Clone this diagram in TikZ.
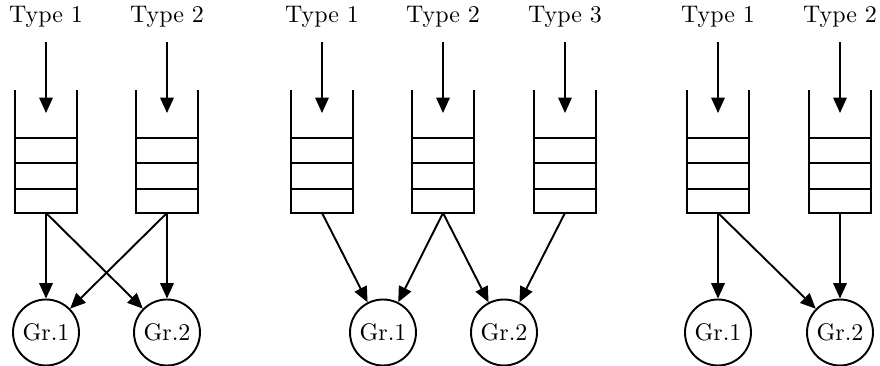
\documentclass[tikz,border=0pt]{standalone}
\usetikzlibrary{arrows.meta,calc}
\begin{document}
\begin{tikzpicture}[x=0.4167pt,y=-0.4167pt,
  every path/.style={line width=0.8pt},
  lbl/.style={inner sep=0pt,font=\normalsize},
  qbox/.style={inner sep=0pt,minimum width=25pt,minimum height=50.4pt},
  grp/.style={circle,draw,line width=0.8pt,inner sep=0pt,minimum size=27.5pt},
  arr/.style={-{Triangle[length=6.4pt,width=5.6pt]},line width=0.8pt},
  inarr/.style={arr,shorten <=5.8pt}]
\useasboundingbox (0,0) rectangle (880,366);
% queue helper drawing
\newcommand{\qdraw}[1]{%
  \draw (#1.north west) -- (#1.south west) -- (#1.south east) -- (#1.north east);
  \draw ($(#1.north west)!0.3884!(#1.south west)$) -- ($(#1.north east)!0.3884!(#1.south east)$);
  \draw ($(#1.north west)!0.5950!(#1.south west)$) -- ($(#1.north east)!0.5950!(#1.south east)$);
  \draw ($(#1.north west)!0.8017!(#1.south west)$) -- ($(#1.north east)!0.8017!(#1.south east)$);
}
\foreach \n/\x/\t in {a1/46/Type 1,a2/167/Type 2,b1/322/Type 1,b2/443/Type 2,b3/565/Type 3,c1/718/Type 1,c2/840/Type 2}{
  \node[lbl] (t\n) at (\x,17) {\t};
  \node[qbox] (q\n) at (\x,151.5) {};
  \coordinate (e\n) at (\x,113);
  \qdraw{q\n}
  \draw[inarr] (t\n) -- (e\n);
}
\node[grp] (ga1) at (46,332.5) {Gr.1};
\node[grp] (ga2) at (167,332.5) {Gr.2};
\node[grp] (gb1) at (383,332.5) {Gr.1};
\node[grp] (gb2) at (504,332.5) {Gr.2};
\node[grp] (gc1) at (718,332.5) {Gr.1};
\node[grp] (gc2) at (840,332.5) {Gr.2};
\draw[arr] (qa1.south) -- (ga1);
\draw[arr] (qa1.south) -- (ga2);
\draw[arr] (qa2.south) -- (ga1);
\draw[arr] (qa2.south) -- (ga2);
\draw[arr] (qb1.south) -- (gb1);
\draw[arr] (qb2.south) -- (gb1);
\draw[arr] (qb2.south) -- (gb2);
\draw[arr] (qb3.south) -- (gb2);
\draw[arr] (qc1.south) -- (gc1);
\draw[arr] (qc1.south) -- (gc2);
\draw[arr] (qc2.south) -- (gc2);
\end{tikzpicture}
\end{document}
